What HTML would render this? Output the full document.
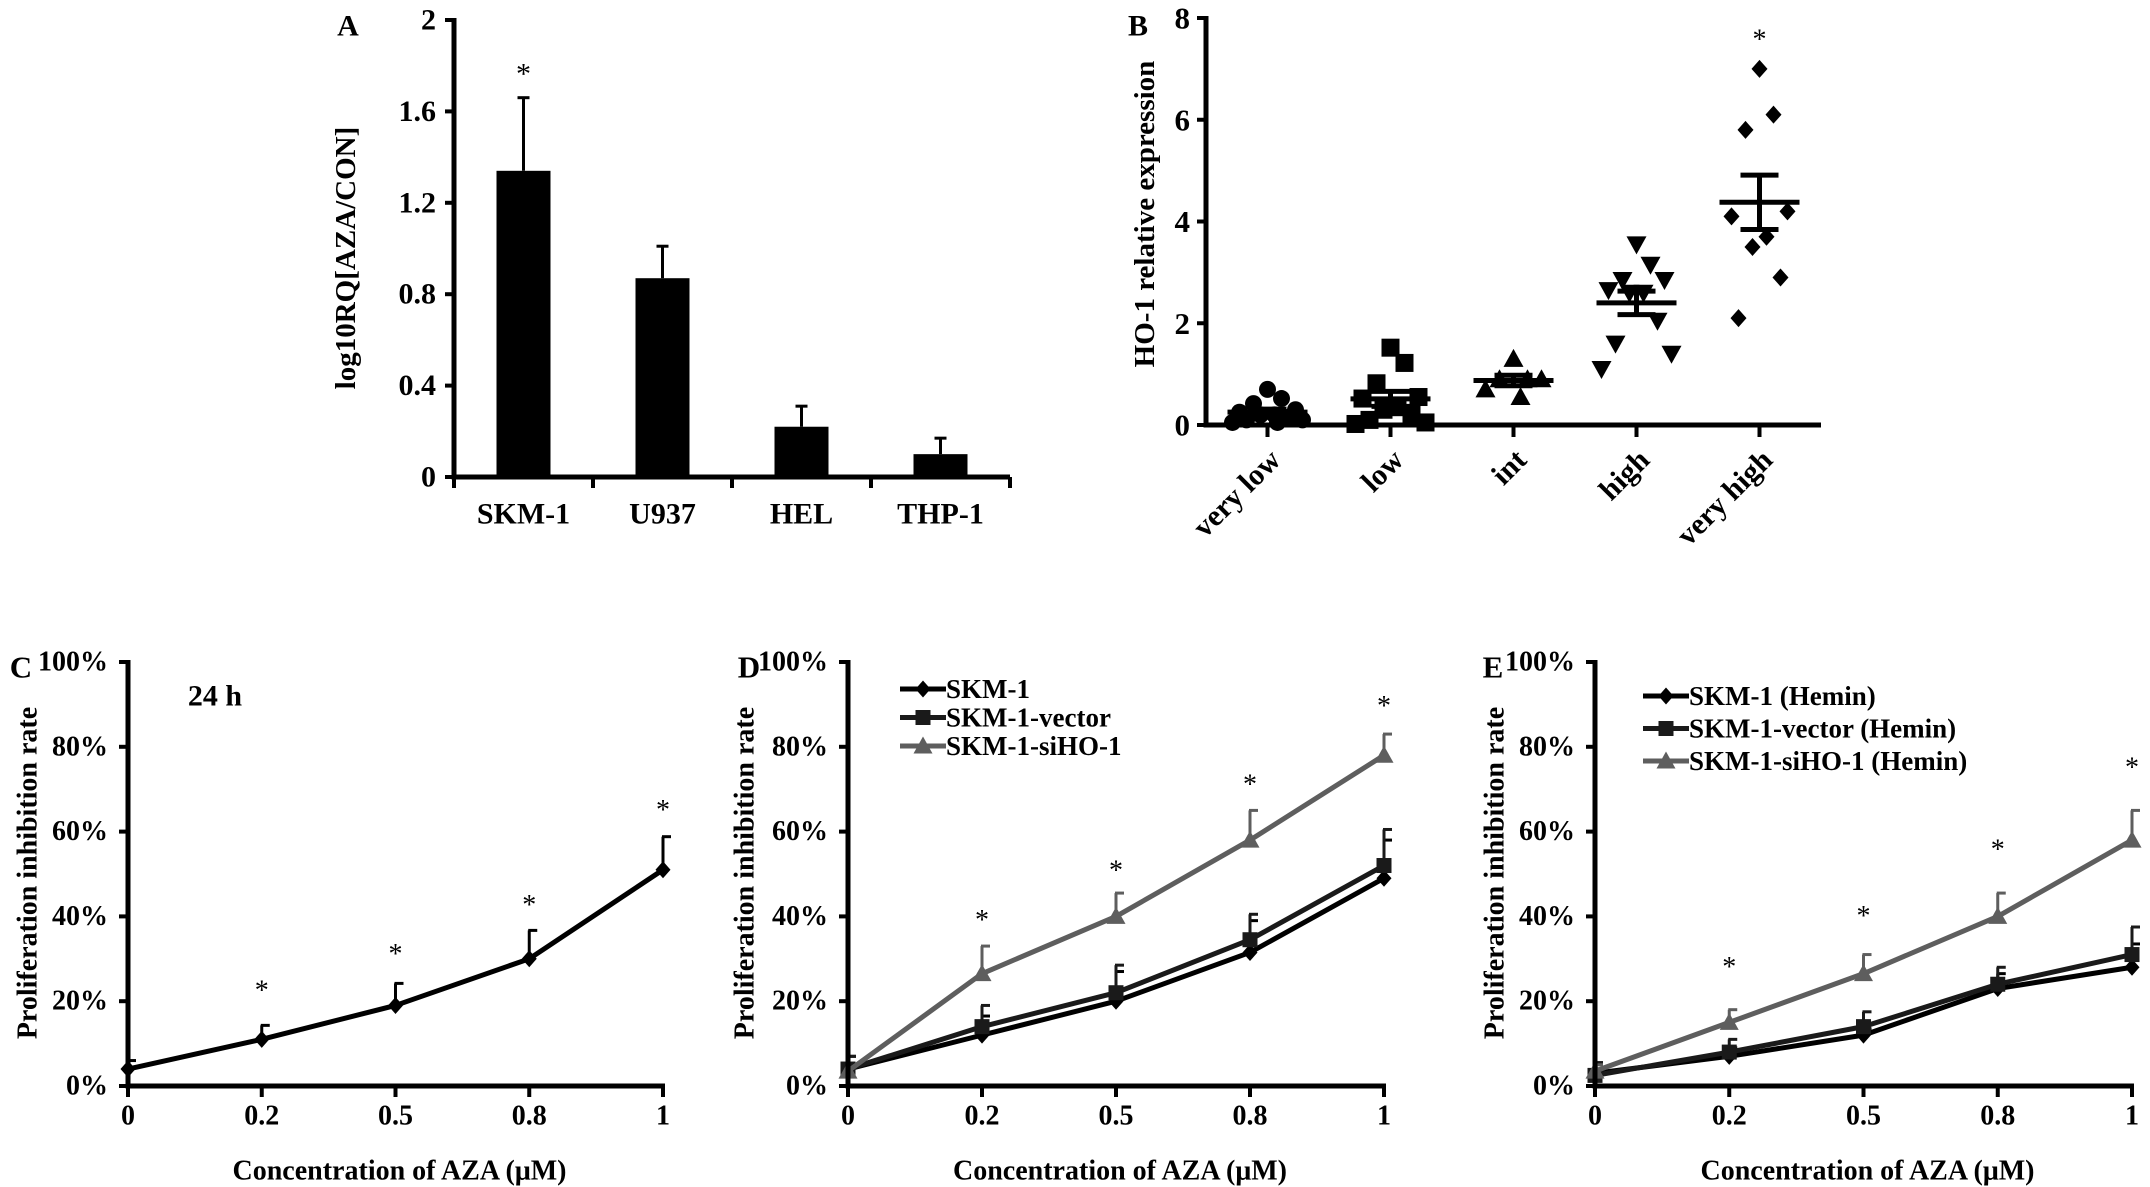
<!DOCTYPE html>
<html><head><meta charset="utf-8"><style>
html,body{margin:0;padding:0;background:#fff;}
svg{display:block;font-family:"Liberation Serif",serif;font-weight:bold;}
</style></head>
<body>
<svg id="fig" width="2150" height="1187" viewBox="0 0 2150 1187" xmlns="http://www.w3.org/2000/svg"></svg>
<script>
// ---- Panel A data ----
const aCategories = ['SKM-1','U937','HEL','THP-1'];
const aValues = [1.34, 0.87, 0.22, 0.10];
const aErrTop = [1.66, 1.01, 0.31, 0.17];
const aTicks = [0, 0.4, 0.8, 1.2, 1.6, 2];
const aTickLabels = ['0','0.4','0.8','1.2','1.6','2'];
// ---- Panel B data ----
const bCategories = ['very low','low','int','high','very high'];
const bVeryLow = [0.7,0.52,0.42,0.3,0.25,0.2,0.2,0.15,0.1,0.1,0.05,0.05];
const bLow = [1.52,1.22,0.82,0.55,0.52,0.35,0.3,0.2,0.1,0.05,0.02];
const bInt = [1.3,0.9,0.9,0.9,0.7,0.55];
const bHigh = [3.55,3.15,2.85,2.85,2.65,2.6,2.6,2.05,1.6,1.4,1.1];
const bVeryHigh = [7.0,6.1,5.8,4.2,4.1,3.7,3.5,2.9,2.1];
const bTicks = [0,2,4,6,8];
// ---- Panels C/D/E data ----
const doseLabels = ['0','0.2','0.5','0.8','1'];
const pctTicks = [0,20,40,60,80,100];
const cValues = [4, 11, 19, 30, 51];
const cErrTop = [6, 14.3, 24.2, 36.7, 58.8];
const cStars = [null, 22.4, 31, 42.6, 65];
const dSkm = [4, 12, 20, 31.5, 49];
const dSkmErr = [7, 16.5, 27, 39, 58];
const dVec = [4, 14, 22, 34.5, 52];
const dVecErr = [7, 19, 28.5, 40.5, 60.5];
const dSi = [3.5, 26.5, 40, 58, 78];
const dSiErr = [5, 33, 45.5, 65, 83];
const dStars = [null, 39, 50.7, 71, 89.5];
const eSkm = [3, 7, 12, 23, 28];
const eSkmErr = [5.5, 9, 13.5, 26.5, 33.5];
const eVec = [2.5, 8, 14, 24, 31];
const eVecErr = [5.5, 11, 17.5, 28, 37.5];
const eSi = [3.5, 15, 26.5, 40, 58];
const eSiErr = [5, 18, 31, 45.5, 65];
const eStars = [null, 28, 40, 55.7, 75];

const NS = 'http://www.w3.org/2000/svg';
const svg = document.getElementById('fig');
function mk(tag, attrs, parent){
  const el = document.createElementNS(NS, tag);
  for (const k in attrs) el.setAttribute(k, attrs[k]);
  (parent||svg).appendChild(el);
  return el;
}
function txt(s, x, y, size, anchor, parent, extra){
  const t = mk('text', Object.assign({x:x, y:y, 'font-size':size, 'text-anchor':anchor||'middle', 'dominant-baseline':'central', fill:'#000'}, extra||{}), parent);
  t.textContent = s;
  return t;
}
function group(){ return mk('g', {}); }

// ================= Panel A =================
(function(){
  const g = group();
  
  
  const x0 = 454, x1 = 1010, y0 = 477, yT = 20, vmax = 2;
  const ys = v => y0 - (v / vmax) * (y0 - yT);
  const band = (x1 - x0) / aCategories.length;
  const xs = i => x0 + band * (i + 0.5);
  const lab = txt('A', 348, 26, 30, 'middle', g);
  
  
  aValues.forEach((v, i) => {
    const bw = 54;
    const eb = mk('line', {x1:xs(i), x2:xs(i), y1:ys(v), y2:ys(aErrTop[i]), stroke:'#000','stroke-width':3}, g);
    
    
    const cap = mk('line', {x1:xs(i)-6, x2:xs(i)+6, y1:ys(aErrTop[i]), y2:ys(aErrTop[i]), stroke:'#000','stroke-width':3}, g);
    
    
    const r = mk('rect', {x:xs(i)-bw/2, y:ys(v), width:bw, height:y0-ys(v), fill:'#000'}, g);
    
    
    const l = txt(aCategories[i], xs(i), 514, 30, 'middle', g);
    
    
  });
  const st = txt('*', xs(0), 74, 30, 'middle', g, {'font-weight':'normal'});
  
  
  for (let i = 0; i <= aCategories.length; i++) {
    const t = mk('line', {x1:x0+band*i, x2:x0+band*i, y1:y0, y2:y0+11, stroke:'#000','stroke-width':4}, g);
    
    
  }
  aTicks.forEach((v, i) => {
    const t = mk('line', {x1:x0-9, x2:x0, y1:ys(v), y2:ys(v), stroke:'#000','stroke-width':4}, g);
    
    
    const l = txt(aTickLabels[i], x0-18, ys(v), 30, 'end', g);
    
    
  });
  const ax = mk('path', {d:`M${x0},${yT-2} V${y0} H${x1}`, fill:'none', stroke:'#000','stroke-width':5}, g);
  
  
  const yt = txt('log10RQ[AZA/CON]', 346, 258, 29, 'middle', g, {transform:'rotate(-90 346 258)'});
  
  
})();

// ================= Panel B =================
(function(){
  const g = group();
  
  
  const x0 = 1206, x1 = 1821, y0 = 425, yT = 18, vmax = 8;
  const ys = v => y0 - (v / vmax) * (y0 - yT);
  const band = (x1 - x0) / bCategories.length;
  const xs = i => x0 + band * (i + 0.5);
  const jit = [0, 14, -14, 28, -28, 7, -7, 21, -21, 35, -35, 10];
  const lab = txt('B', 1138, 26, 30, 'middle', g);
  
  
  const groups = [bVeryLow, bLow, bInt, bHigh, bVeryHigh];
  const shapes = ['circle','square','triangle','down-triangle','diamond'];
  groups.forEach((arr, i) => {
    arr.forEach((v, j) => {
      const cx = xs(i) + jit[j % jit.length], cy = ys(v);
      let m;
      const s = 9;
      if (shapes[i] === 'circle') m = mk('circle', {cx:cx, cy:cy, r:8.5, fill:'#000'}, g);
      else if (shapes[i] === 'square') m = mk('rect', {x:cx-s, y:cy-s, width:2*s, height:2*s, fill:'#000'}, g);
      else if (shapes[i] === 'triangle') m = mk('polygon', {points:`${cx},${cy-s-1} ${cx+s+1},${cy+s-1} ${cx-s-1},${cy+s-1}`, fill:'#000'}, g);
      else if (shapes[i] === 'down-triangle') m = mk('polygon', {points:`${cx-s-1},${cy-s+1} ${cx+s+1},${cy-s+1} ${cx},${cy+s+1}`, fill:'#000'}, g);
      else m = mk('polygon', {points:`${cx},${cy-s} ${cx+s-1},${cy} ${cx},${cy+s} ${cx-s+1},${cy}`, fill:'#000'}, g);
      
      
    });
    const n = arr.length;
    const mean = arr.reduce((a, b) => a + b, 0) / n;
    const sd = Math.sqrt(arr.reduce((a, b) => a + (b - mean) * (b - mean), 0) / (n - 1));
    const sem = sd / Math.sqrt(n);
    const ml = mk('line', {x1:xs(i)-40, x2:xs(i)+40, y1:ys(mean), y2:ys(mean), stroke:'#000','stroke-width':5}, g);
    
    
    const vl = mk('line', {x1:xs(i), x2:xs(i), y1:ys(mean+sem), y2:ys(mean-sem), stroke:'#000','stroke-width':5}, g);
    
    
    [mean+sem, mean-sem].forEach(v => {
      const c = mk('line', {x1:xs(i)-19, x2:xs(i)+19, y1:ys(v), y2:ys(v), stroke:'#000','stroke-width':5}, g);
      
      
    });
    const t = mk('line', {x1:xs(i), x2:xs(i), y1:y0, y2:y0+12, stroke:'#000','stroke-width':4}, g);
    
    
    const lx = xs(i) + 8, ly = y0 + 30;
    const l = txt(bCategories[i], lx, ly, 30, 'end', g, {transform:`rotate(-45 ${lx} ${ly})`});
    
    
  });
  const st = txt('*', xs(4), 40, 28, 'middle', g, {'font-weight':'normal'});
  
  
  bTicks.forEach(v => {
    const t = mk('line', {x1:x0-9, x2:x0, y1:ys(v), y2:ys(v), stroke:'#000','stroke-width':4}, g);
    
    
    const l = txt(String(v), x0-16, ys(v), 31, 'end', g);
    
    
  });
  const ax = mk('path', {d:`M${x0},${yT-2} V${y0} H${x1}`, fill:'none', stroke:'#000','stroke-width':5}, g);
  
  
  const yt = txt('HO-1 relative expression', 1145, 214, 29, 'middle', g, {transform:'rotate(-90 1145 214)'});
  
  
})();

// ================= Panels C/D/E =================
function marker(shape, cx, cy, color, g){
  const s = 7.5;
  if (shape === 'square') return mk('rect', {x:cx-s, y:cy-s, width:2*s, height:2*s, fill:color}, g);
  if (shape === 'triangle') return mk('polygon', {points:`${cx},${cy-s-2} ${cx+s+2},${cy+s} ${cx-s-2},${cy+s}`, fill:color}, g);
  return mk('polygon', {points:`${cx},${cy-s-1} ${cx+s},${cy} ${cx},${cy+s+1} ${cx-s},${cy}`, fill:color}, g);
}
function linePanel(cfg){
  const g = group();
  
  
  const x0 = cfg.x0, x4 = cfg.x4, y0 = 1086, yT = 662;
  const ys = v => y0 - (v / 100) * (y0 - yT);
  const xs = i => x0 + (x4 - x0) * i / (doseLabels.length - 1);
  const lab = txt(cfg.letter, cfg.letterX, 667, 31, 'middle', g);
  
  
  pctTicks.forEach(v => {
    const t = mk('line', {x1:x0-9, x2:x0, y1:ys(v), y2:ys(v), stroke:'#000','stroke-width':4}, g);
    
    
    const l = txt(v + '%', x0-20, ys(v), 28, 'end', g);
    
    
  });
  doseLabels.forEach((d, i) => {
    const t = mk('line', {x1:xs(i), x2:xs(i), y1:y0, y2:y0+11, stroke:'#000','stroke-width':4}, g);
    
    
    const l = txt(d, xs(i), 1116, 28, 'middle', g);
    
    
  });
  cfg.series.forEach(s => {
    s.err.forEach((e, i) => {
      const eb = mk('line', {x1:xs(i), x2:xs(i), y1:ys(s.vals[i]), y2:ys(e), stroke:s.color,'stroke-width':3}, g);
      
      
      const c = mk('line', {x1:xs(i)-1, x2:xs(i)+8, y1:ys(e), y2:ys(e), stroke:s.color,'stroke-width':3}, g);
      
      
    });
  });
  cfg.series.forEach(s => {
    const d = s.vals.map((v, i) => (i ? 'L' : 'M') + xs(i) + ',' + ys(v)).join(' ');
    const p = mk('path', {d:d, fill:'none', stroke:s.color, 'stroke-width':5, 'stroke-linejoin':'round'}, g);
    
    
    s.vals.forEach((v, i) => {
      const m = marker(s.shape, xs(i), ys(v), s.color, g);
      
      
    });
  });
  cfg.stars.forEach((v, i) => {
    if (v === null) return;
    const st = txt('*', xs(i), ys(v), 28, 'middle', g, {'font-weight':'normal'});
    
    
  });
  const ax = mk('path', {d:`M${x0},${yT-2} V${y0} H${x4+2}`, fill:'none', stroke:'#000','stroke-width':5}, g);
  
  
  const xt = txt('Concentration of AZA (μM)', (x0 + x4) / 2 + 4, 1171, 28, 'middle', g);
  
  
  const yt = txt('Proliferation inhibition rate', cfg.ytX, 873, 28, 'middle', g, {transform:`rotate(-90 ${cfg.ytX} 873)`});
  
  
  if (cfg.note) {
    const n = txt(cfg.note, 215, 696, 30, 'middle', g);
    
    
  }
  if (cfg.legend) {
    cfg.series.forEach((s, k) => {
      const ly = cfg.legend.y + k * cfg.legend.dy;
      const ll = mk('line', {x1:cfg.legend.x, x2:cfg.legend.x+46, y1:ly, y2:ly, stroke:s.color,'stroke-width':5}, g);
      
      
      const lm = marker(s.shape, cfg.legend.x+23, ly, s.color, g);
      
      
      const lt = txt(s.label, cfg.legend.x+46, ly, 27, 'start', g);
      
      
    });
  }
}
const GRAY = '#5e5e5e';
linePanel({name:'panel-c-line-chart', letter:'C', letterX:21, x0:128, x4:663, ytX:28, note:'24 h',
  series:[{key:'skm-1', label:'SKM-1', vals:cValues, err:cErrTop, color:'#000', shape:'diamond'}],
  stars:cStars});
linePanel({name:'panel-d-line-chart', letter:'D', letterX:749, x0:848, x4:1384, ytX:745,
  legend:{x:900, y:689, dy:28.5},
  series:[
    {key:'skm-1', label:'SKM-1', vals:dSkm, err:dSkmErr, color:'#000', shape:'diamond'},
    {key:'skm-1-vector', label:'SKM-1-vector', vals:dVec, err:dVecErr, color:'#1a1a1a', shape:'square'},
    {key:'skm-1-siho-1', label:'SKM-1-siHO-1', vals:dSi, err:dSiErr, color:GRAY, shape:'triangle'}],
  stars:dStars});
linePanel({name:'panel-e-line-chart', letter:'E', letterX:1493, x0:1595, x4:2132, ytX:1495,
  legend:{x:1643, y:696, dy:32.5},
  series:[
    {key:'skm-1-hemin', label:'SKM-1 (Hemin)', vals:eSkm, err:eSkmErr, color:'#000', shape:'diamond'},
    {key:'skm-1-vector-hemin', label:'SKM-1-vector (Hemin)', vals:eVec, err:eVecErr, color:'#1a1a1a', shape:'square'},
    {key:'skm-1-siho-1-hemin', label:'SKM-1-siHO-1 (Hemin)', vals:eSi, err:eSiErr, color:GRAY, shape:'triangle'}],
  stars:eStars});
</script>
</body></html>
